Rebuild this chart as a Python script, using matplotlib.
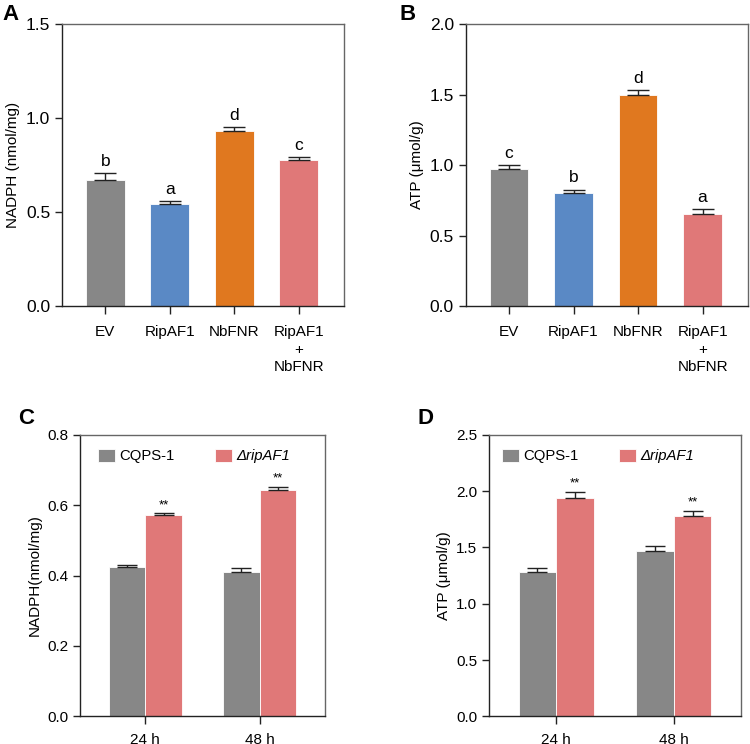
import numpy as np
import matplotlib.pyplot as plt

plt.rcParams["font.family"] = ["Liberation Sans", "DejaVu Sans"]
plt.rcParams["font.size"] = 11

# Panel A / B data
groups_ab = ["EV", "RipAF1", "NbFNR", "RipAF1\n+\nNbFNR"]
nadph_ab = [0.67, 0.54, 0.93, 0.775]
nadph_ab_err = [0.035, 0.02, 0.02, 0.015]
atp_ab = [0.97, 0.80, 1.50, 0.65]
atp_ab_err = [0.03, 0.025, 0.03, 0.035]
letters_nadph = ["b", "a", "d", "c"]
letters_atp = ["c", "b", "d", "a"]

# Panel C / D data
times = ["24 h", "48 h"]
strains = ["CQPS-1", "ΔripAF1"]
nadph_wt = [0.425, 0.41]
nadph_wt_err = [0.006, 0.011]
nadph_mut = [0.572, 0.643]
nadph_mut_err = [0.005, 0.008]
atp_wt = [1.28, 1.47]
atp_wt_err = [0.04, 0.043]
atp_mut = [1.94, 1.78]
atp_mut_err = [0.055, 0.045]

gray = "#878787"
blue = "#5a89c5"
orange = "#e0781f"
pink = "#e07878"
colors_ab = [gray, blue, orange, pink]

fig = plt.figure(figsize=(7.5, 7.44), dpi=100)
axA = fig.add_axes([0.0827, 0.5887, 0.376, 0.379])
axB = fig.add_axes([0.621, 0.5887, 0.376, 0.379])
axC = fig.add_axes([0.1067, 0.0372, 0.3267, 0.3785])
axD = fig.add_axes([0.6524, 0.0372, 0.3352, 0.3785])


def style(ax):
    for s in ["top", "right"]:
        ax.spines[s].set_color("#666666")
        ax.spines[s].set_linewidth(1.0)
    for s in ["left", "bottom"]:
        ax.spines[s].set_color("#222222")
        ax.spines[s].set_linewidth(1.0)
    ax.tick_params(direction="out", length=5, width=1, color="#222222",
                   top=False, right=False)


def bar_panel(ax, vals, errs, letters, ymax, yticks, ylabel):
    x = np.arange(len(vals))
    ax.bar(x, vals, width=0.6, color=colors_ab, edgecolor="white", linewidth=0.6,
           yerr=[np.zeros(len(errs)), errs], capsize=8,
           error_kw=dict(ecolor="#222222", elinewidth=1, capthick=1))
    for xi, v, e, l in zip(x, vals, errs, letters):
        ax.text(xi, v + e + ymax * 0.015, l, ha="center", va="bottom", fontsize=12.5)
    ax.set_xticks(x)
    ax.set_xticklabels(groups_ab, linespacing=1.3, fontsize=11)
    ax.set_xlim(-0.67, 3.7)
    ax.set_ylim(0, ymax)
    ax.set_yticks(yticks)
    ax.set_ylabel(ylabel, fontsize=11)
    style(ax)
    ax.tick_params(axis="y", labelsize=12.5)
    ax.tick_params(axis="x", length=6, pad=8)


def group_panel(ax, wt, wt_err, mut, mut_err, ymax, yticks, ylabel, leg_x):
    x = np.arange(len(times))
    w = 0.32
    ekw = dict(ecolor="#222222", elinewidth=1, capthick=1)
    ax.bar(x - w / 2, wt, width=w, color=gray, edgecolor="white", linewidth=0.6,
           yerr=[np.zeros(2), wt_err], capsize=7, error_kw=ekw, label=strains[0])
    ax.bar(x + w / 2, mut, width=w, color=pink, edgecolor="white", linewidth=0.6,
           yerr=[np.zeros(2), mut_err], capsize=7, error_kw=ekw, label=strains[1])
    for xi, v, e in zip(x, mut, mut_err):
        ax.text(xi + w / 2, v + e + ymax * 0.008, "**", ha="center", va="bottom", fontsize=9.5)
    ax.set_xticks(x)
    ax.set_xticklabels(times, fontsize=11)
    ax.set_xlim(-0.57, 1.57)
    ax.set_ylim(0, ymax)
    ax.set_yticks(yticks)
    ax.set_ylabel(ylabel, fontsize=11)
    style(ax)
    ax.tick_params(axis="y", labelsize=11)
    ax.tick_params(axis="x", length=6, pad=6)
    leg = ax.legend(loc="upper left", ncol=2, frameon=False, fontsize=10.7,
                    handlelength=1.15, handleheight=0.95, handletextpad=0.3,
                    columnspacing=2.7, borderpad=0, borderaxespad=0,
                    bbox_to_anchor=(leg_x, 0.95))
    leg.get_texts()[1].set_fontstyle("italic")


bar_panel(axA, nadph_ab, nadph_ab_err, letters_nadph, 1.5,
          [0.0, 0.5, 1.0, 1.5], "NADPH (nmol/mg)")
bar_panel(axB, atp_ab, atp_ab_err, letters_atp, 2.0,
          [0.0, 0.5, 1.0, 1.5, 2.0], "ATP (μmol/g)")

group_panel(axC, nadph_wt, nadph_wt_err, nadph_mut, nadph_mut_err, 0.8,
            [0.0, 0.2, 0.4, 0.6, 0.8], "NADPH(nmol/mg)", 0.073)
group_panel(axD, atp_wt, atp_wt_err, atp_mut, atp_mut_err, 2.5,
            [0.0, 0.5, 1.0, 1.5, 2.0, 2.5], "ATP (μmol/g)", 0.05)

for lab, (px, py) in zip("ABCD", [(0.003, 0.973), (0.533, 0.973), (0.024, 0.430), (0.557, 0.430)]):
    fig.text(px, py, lab, fontsize=16, fontweight="bold", ha="left", va="baseline")

fig.savefig("out.png", dpi=100)
